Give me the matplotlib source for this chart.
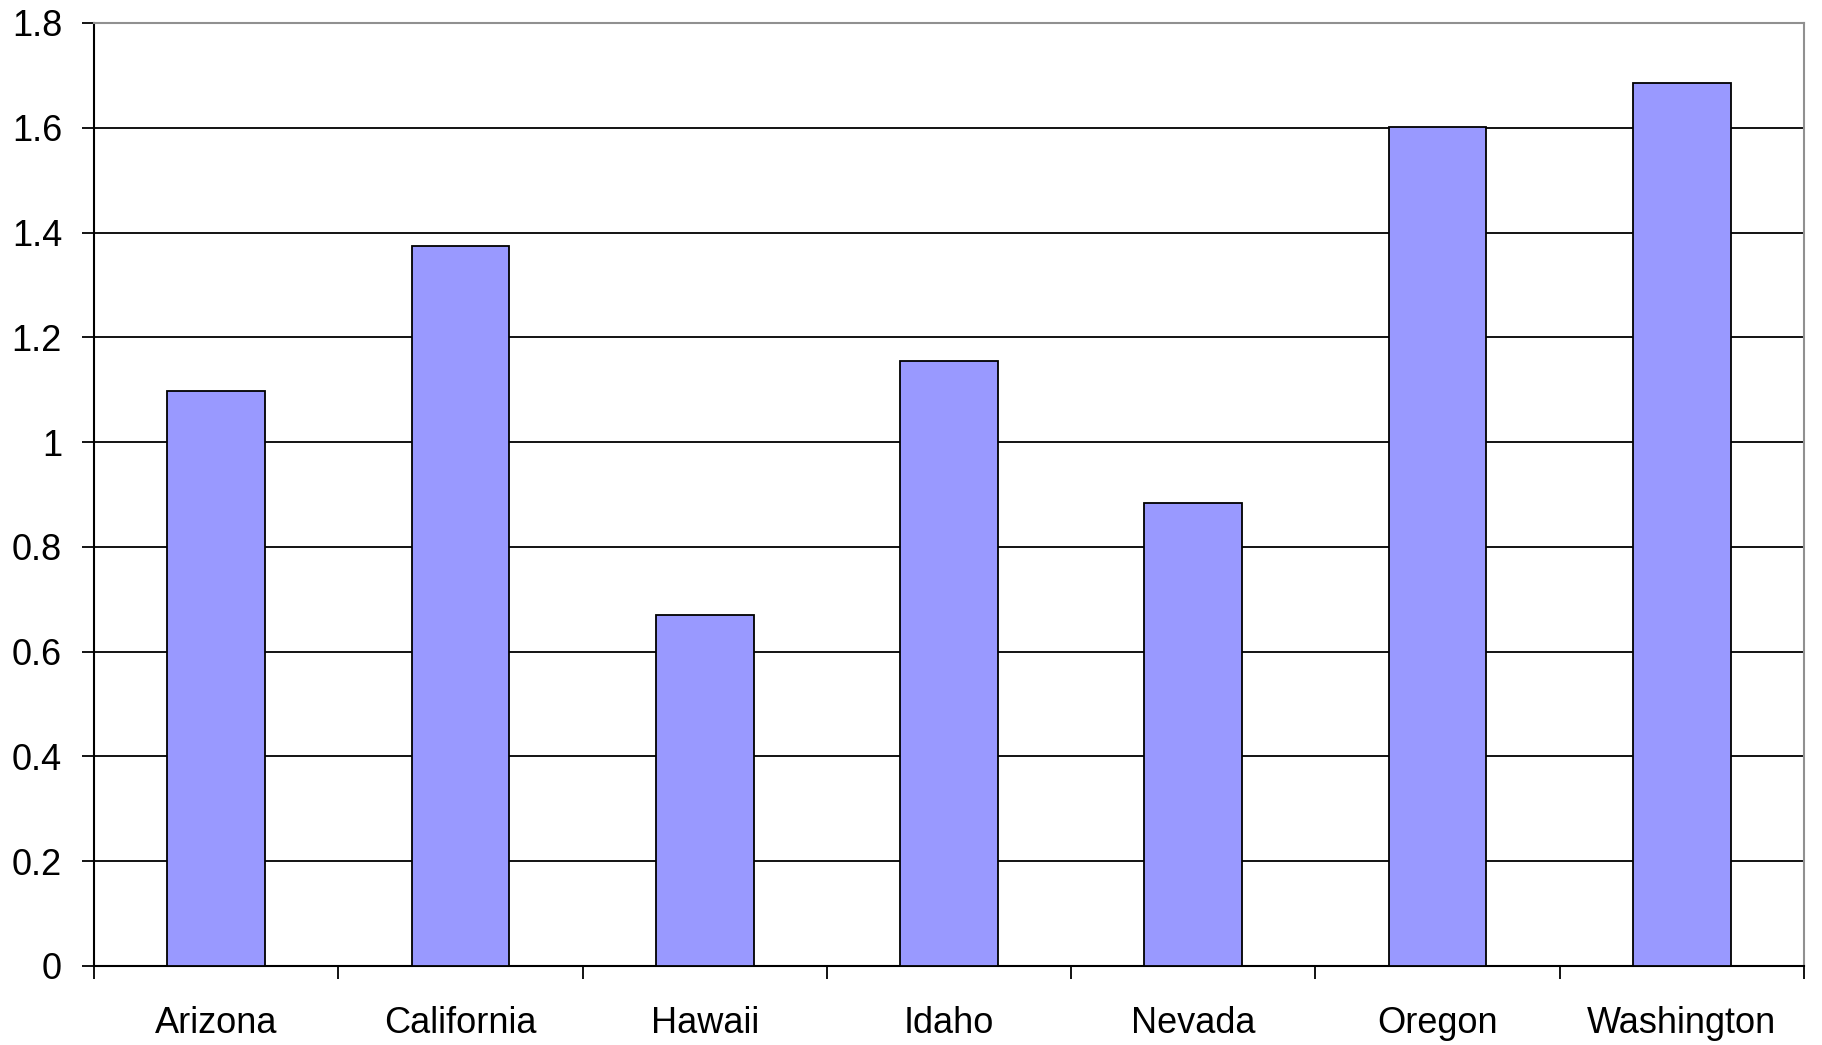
import matplotlib
matplotlib.use("Agg")
import matplotlib.pyplot as plt
from matplotlib.ticker import FuncFormatter

states = ["Arizona", "California", "Hawaii", "Idaho", "Nevada", "Oregon", "Washington"]
values = [1.097, 1.375, 0.670, 1.154, 0.883, 1.601, 1.686]
yticks = [0, 0.2, 0.4, 0.6, 0.8, 1.0, 1.2, 1.4, 1.6, 1.8]

plt.rcParams['font.family'] = ['Liberation Sans', 'DejaVu Sans']

fig = plt.figure(figsize=(18.22, 10.45), dpi=100)
ax = fig.add_axes([0.0516, 0.0756, 0.9385, 0.9024])

x = list(range(len(states)))
ax.bar(x, values, width=0.4, color="#9999ff", edgecolor="black", linewidth=1.3, zorder=3)

ax.set_xlim(-0.5, len(states) - 0.5)
ax.set_ylim(0, 1.8)
ax.set_yticks(yticks)
ax.yaxis.set_major_formatter(FuncFormatter(lambda v, p: "%g" % v))
ax.set_xticks(x)
ax.set_xticklabels(states)
ax.set_xticks([i - 0.5 for i in range(len(states) + 1)], minor=True)

ax.set_axisbelow(True)
ax.yaxis.grid(True, color="black", linewidth=1.3)

ax.tick_params(axis="y", length=9, width=1.3, pad=14, labelsize=26)
ax.tick_params(axis="x", which="major", length=0, pad=29, labelsize=26)
ax.tick_params(axis="x", which="minor", length=9, width=1.3)

for s in ["left", "bottom"]:
    ax.spines[s].set_color("black")
    ax.spines[s].set_linewidth(1.5)
for s in ["top", "right"]:
    ax.spines[s].set_color("#909090")
    ax.spines[s].set_linewidth(1.5)

fig.savefig("out.png", dpi=100)
